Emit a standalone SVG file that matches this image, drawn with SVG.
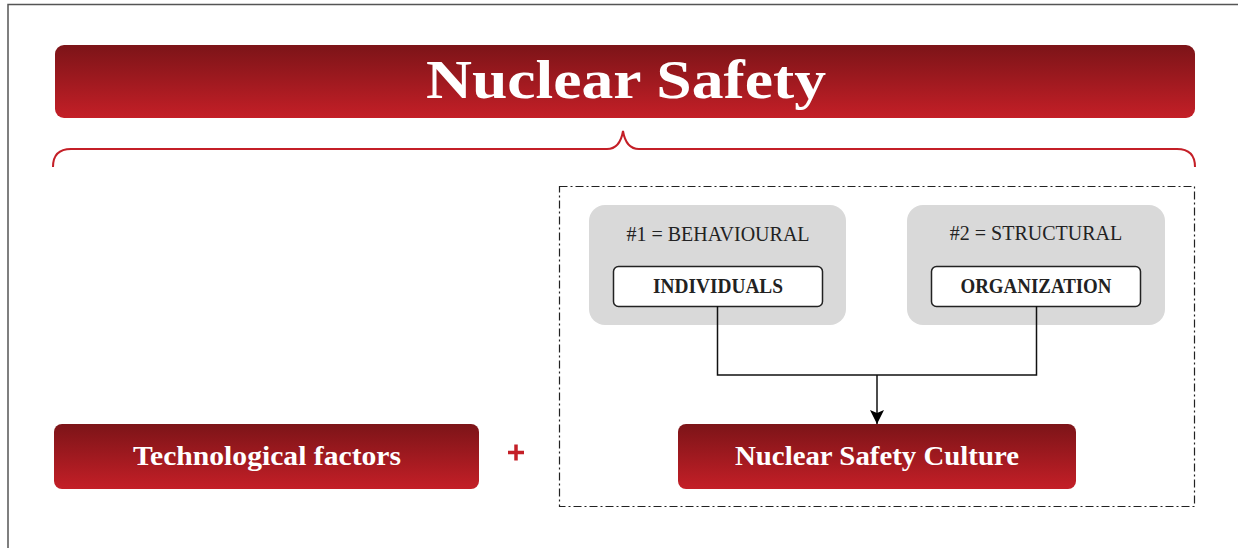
<svg xmlns="http://www.w3.org/2000/svg" width="1238" height="548" viewBox="0 0 1238 548">
<defs>
<linearGradient id="red" x1="0" y1="0" x2="0" y2="1">
<stop offset="0" stop-color="#7c1418"/>
<stop offset="1" stop-color="#c41f27"/>
</linearGradient>
<marker id="arr" markerWidth="14" markerHeight="16" refX="14" refY="7" orient="auto" markerUnits="userSpaceOnUse">
<path d="M0,0 L14,7 L0,14 L3,7 Z" fill="#000"/>
</marker>
</defs>
<style>
.red{fill:url(#red)}
.wt{font-family:"Liberation Serif","DejaVu Serif",serif;font-weight:bold;fill:#fff;text-anchor:middle}
.gray{fill:#d9d9d9}
.inner{fill:#fff;stroke:#222;stroke-width:1.5}
.lbl{font-family:"Liberation Serif","DejaVu Serif",serif;font-size:20px;fill:#222;text-anchor:middle}
.blbl{font-family:"Liberation Serif","DejaVu Serif",serif;font-size:20px;font-weight:bold;fill:#222;text-anchor:middle}
.conn{fill:none;stroke:#111;stroke-width:1.5}
</style>
<rect width="1238" height="548" fill="#fff"/>
<path d="M8,548 V4.5 H1238" fill="none" stroke="#555" stroke-width="1.5"/>
<g id="title">
<rect x="55" y="45" width="1140" height="73" rx="9" class="red"/>
<text x="626" y="98" class="wt" font-size="54" textLength="400" lengthAdjust="spacingAndGlyphs">Nuclear Safety</text>
</g>
<path id="brace" d="M53,167 Q53,149 71,149 H607 Q620,149 623,131 Q626,149 639,149 H1177 Q1195,149 1195,167" fill="none" stroke="#c41f27" stroke-width="2"/>
<rect id="culture-frame" x="559.5" y="186.5" width="635" height="320" fill="none" stroke="#222" stroke-width="1.2" stroke-dasharray="8,3,2,3"/>
<g id="behavioural">
<rect x="589" y="205" width="257" height="120" rx="16" class="gray"/>
<text x="718" y="241" class="lbl">#1 = BEHAVIOURAL</text>
<rect x="613.5" y="266.5" width="209" height="40" rx="5" class="inner"/>
<text x="718" y="293" class="blbl" textLength="130" lengthAdjust="spacingAndGlyphs">INDIVIDUALS</text>
</g>
<g id="structural">
<rect x="907" y="205" width="258" height="120" rx="16" class="gray"/>
<text x="1036" y="240" class="lbl">#2 = STRUCTURAL</text>
<rect x="931.5" y="266.5" width="209" height="40" rx="5" class="inner"/>
<text x="1036" y="293" class="blbl" textLength="151" lengthAdjust="spacingAndGlyphs">ORGANIZATION</text>
</g>
<g id="connectors">
<path d="M717.5,306 V375 H1036.5 V306" class="conn"/>
<path d="M877,375 V424" class="conn" marker-end="url(#arr)"/>
</g>
<g id="tech">
<rect x="54" y="424" width="425" height="65" rx="8" class="red"/>
<text x="267" y="465" class="wt" font-size="27" textLength="268" lengthAdjust="spacingAndGlyphs">Technological factors</text>
</g>
<g id="plus">
<path d="M508,452.5 H524 M516,444.5 V460.5" stroke="#c41f27" stroke-width="3.5"/>
</g>
<g id="nsc">
<rect x="678" y="424" width="398" height="65" rx="8" class="red"/>
<text x="877" y="465" class="wt" font-size="27" textLength="284" lengthAdjust="spacingAndGlyphs">Nuclear Safety Culture</text>
</g>
</svg>
